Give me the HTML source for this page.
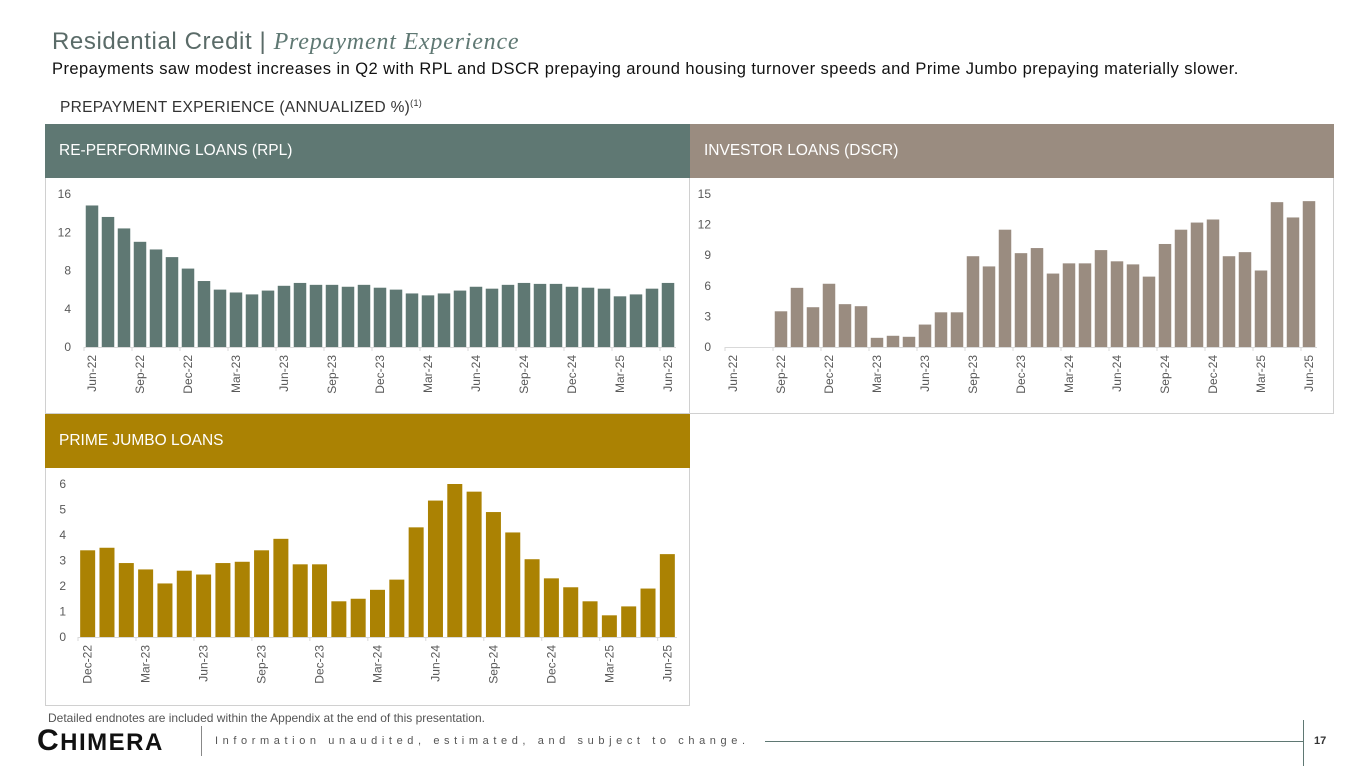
<!DOCTYPE html>
<html><head><meta charset="utf-8">
<style>
body{margin:0;width:1365px;height:768px;background:#fff;font-family:"Liberation Sans",sans-serif;position:relative;overflow:hidden}
.abs{position:absolute}
.hdr{position:absolute;color:#fff;font-size:15.5px;line-height:54px;padding-left:14px;box-sizing:border-box}
.body{position:absolute;border:1px solid #d0d0d0;border-top:none;box-sizing:border-box}
svg text{font-family:"Liberation Sans",sans-serif;font-size:12px;fill:#595959}
</style></head><body>
<div class="abs" style="left:52px;top:28px;font-size:24px;color:#5a6b68;letter-spacing:0.6px">Residential Credit | <span style="font-family:'Liberation Serif',serif;font-style:italic;color:#5f7873;letter-spacing:0.8px">Prepayment Experience</span></div>
<div class="abs" style="left:52px;top:60px;font-size:16.5px;color:#111;letter-spacing:0.45px;white-space:nowrap">Prepayments saw modest increases in Q2 with RPL and DSCR prepaying around housing turnover speeds and Prime Jumbo prepaying materially slower.</div>
<div class="abs" style="left:60px;top:98px;font-size:15.5px;color:#333;letter-spacing:0.3px">PREPAYMENT EXPERIENCE (ANNUALIZED %)<sup style="font-size:9px">(1)</sup></div>

<div class="hdr" style="left:45px;top:124px;width:645px;height:54px;background:#5f7873">RE-PERFORMING LOANS (RPL)</div>
<div class="hdr" style="left:690px;top:124px;width:644px;height:54px;background:#9a8c80">INVESTOR LOANS (DSCR)</div>
<div class="body" style="left:45px;top:178px;width:645px;height:236px"></div>
<div class="body" style="left:690px;top:178px;width:644px;height:236px;border-left:none"></div>
<div class="hdr" style="left:45px;top:414px;width:645px;height:54px;background:#ab8203">PRIME JUMBO LOANS</div>
<div class="body" style="left:45px;top:468px;width:645px;height:238px"></div>

<svg id="chart" class="abs" style="left:0;top:0" width="1365" height="768"></svg>

<div class="abs" style="left:48px;top:711px;font-size:12px;color:#555">Detailed endnotes are included within the Appendix at the end of this presentation.</div>
<div class="abs" style="left:37px;top:726px;font-size:30px;font-weight:bold;color:#111;letter-spacing:1.5px;font-family:'Liberation Sans',sans-serif;line-height:30px">C<span style="font-size:24px">HIMERA</span></div>
<div class="abs" style="left:201px;top:726px;width:1px;height:30px;background:#888"></div>
<div class="abs" style="left:215px;top:735px;font-size:11px;color:#555;letter-spacing:4.6px;white-space:nowrap">Information unaudited, estimated, and subject to change.</div>
<div class="abs" style="left:765px;top:741px;width:538px;height:1px;background:#5f7873"></div>
<div class="abs" style="left:1303px;top:720px;width:1px;height:46px;background:#5f7873"></div>
<div class="abs" style="left:1314px;top:735px;font-size:11px;font-weight:bold;color:#333">17</div>

<script>
const rplCats = ["Jun-22","Jul-22","Aug-22","Sep-22","Oct-22","Nov-22","Dec-22","Jan-23","Feb-23","Mar-23","Apr-23","May-23","Jun-23","Jul-23","Aug-23","Sep-23","Oct-23","Nov-23","Dec-23","Jan-24","Feb-24","Mar-24","Apr-24","May-24","Jun-24","Jul-24","Aug-24","Sep-24","Oct-24","Nov-24","Dec-24","Jan-25","Feb-25","Mar-25","Apr-25","May-25","Jun-25"];
const rplValues = [14.8,13.6,12.4,11.0,10.2,9.4,8.2,6.9,6.0,5.7,5.5,5.9,6.4,6.7,6.5,6.5,6.3,6.5,6.2,6.0,5.6,5.4,5.6,5.9,6.3,6.1,6.5,6.7,6.6,6.6,6.3,6.2,6.1,5.3,5.5,6.1,6.7];
const rplTicks = [0,4,8,12,16];
const dscrCats = rplCats;
const dscrValues = [0,0,0,3.5,5.8,3.9,6.2,4.2,4.0,0.9,1.1,1.0,2.2,3.4,3.4,8.9,7.9,11.5,9.2,9.7,7.2,8.2,8.2,9.5,8.4,8.1,6.9,10.1,11.5,12.2,12.5,8.9,9.3,7.5,14.2,12.7,14.3];
const dscrTicks = [0,3,6,9,12,15];
const jumboCats = rplCats.slice(6);
const jumboValues = [3.4,3.5,2.9,2.65,2.1,2.6,2.45,2.9,2.95,3.4,3.85,2.85,2.85,1.4,1.5,1.85,2.25,4.3,5.35,6.0,5.7,4.9,4.1,3.05,2.3,1.95,1.4,0.85,1.2,1.9,3.25];
const jumboTicks = [0,1,2,3,4,5,6];

const svg=document.getElementById('chart');
const NS='http://www.w3.org/2000/svg';
function mk(tag,attrs){const e=document.createElementNS(NS,tag);for(const k in attrs)e.setAttribute(k,attrs[k]);svg.appendChild(e);return e;}
function draw(name,cats,vals,ticks,color,x0,x1,y0,yTop,labelX,bw){
  const max=ticks[ticks.length-1];
  const band=(x1-x0)/cats.length;
  const xs=i=>x0+band*i+band/2;
  const ys=v=>y0-(v/max)*(y0-yTop);
  ticks.forEach(t=>{
    const tx=mk('text',{x:labelX,y:ys(t)+4,'text-anchor':'end'});tx.textContent=t;
    
    
  });
  const ax=mk('line',{x1:x0,x2:x1,y1:y0+0.5,y2:y0+0.5,stroke:'#d9d9d9'});
  
  
  vals.forEach((v,i)=>{
    const r=mk('rect',{x:xs(i)-bw/2,y:ys(v),width:bw,height:y0-ys(v),fill:color});
    
    
  });
  cats.forEach((c,i)=>{
    if(i%3!==0)return;
    const tk=mk('line',{x1:xs(i)-band/2,x2:xs(i)-band/2,y1:y0,y2:y0+4,stroke:'#d9d9d9'});
    
    
    const t=mk('text',{x:0,y:0,'text-anchor':'end',transform:`translate(${xs(i)+4},${y0+8}) rotate(-90)`});
    t.textContent=c;
    
    
  });
}
draw('rpl',rplCats,rplValues,rplTicks,'#5f7873',84,676,347,194,71,12.5);
draw('dscr',dscrCats,dscrValues,dscrTicks,'#9a8c80',725,1317,347,194,711,12.5);
draw('jumbo',jumboCats,jumboValues,jumboTicks,'#ab8203',78,677,637,484,66,15);
</script>
</body></html>
